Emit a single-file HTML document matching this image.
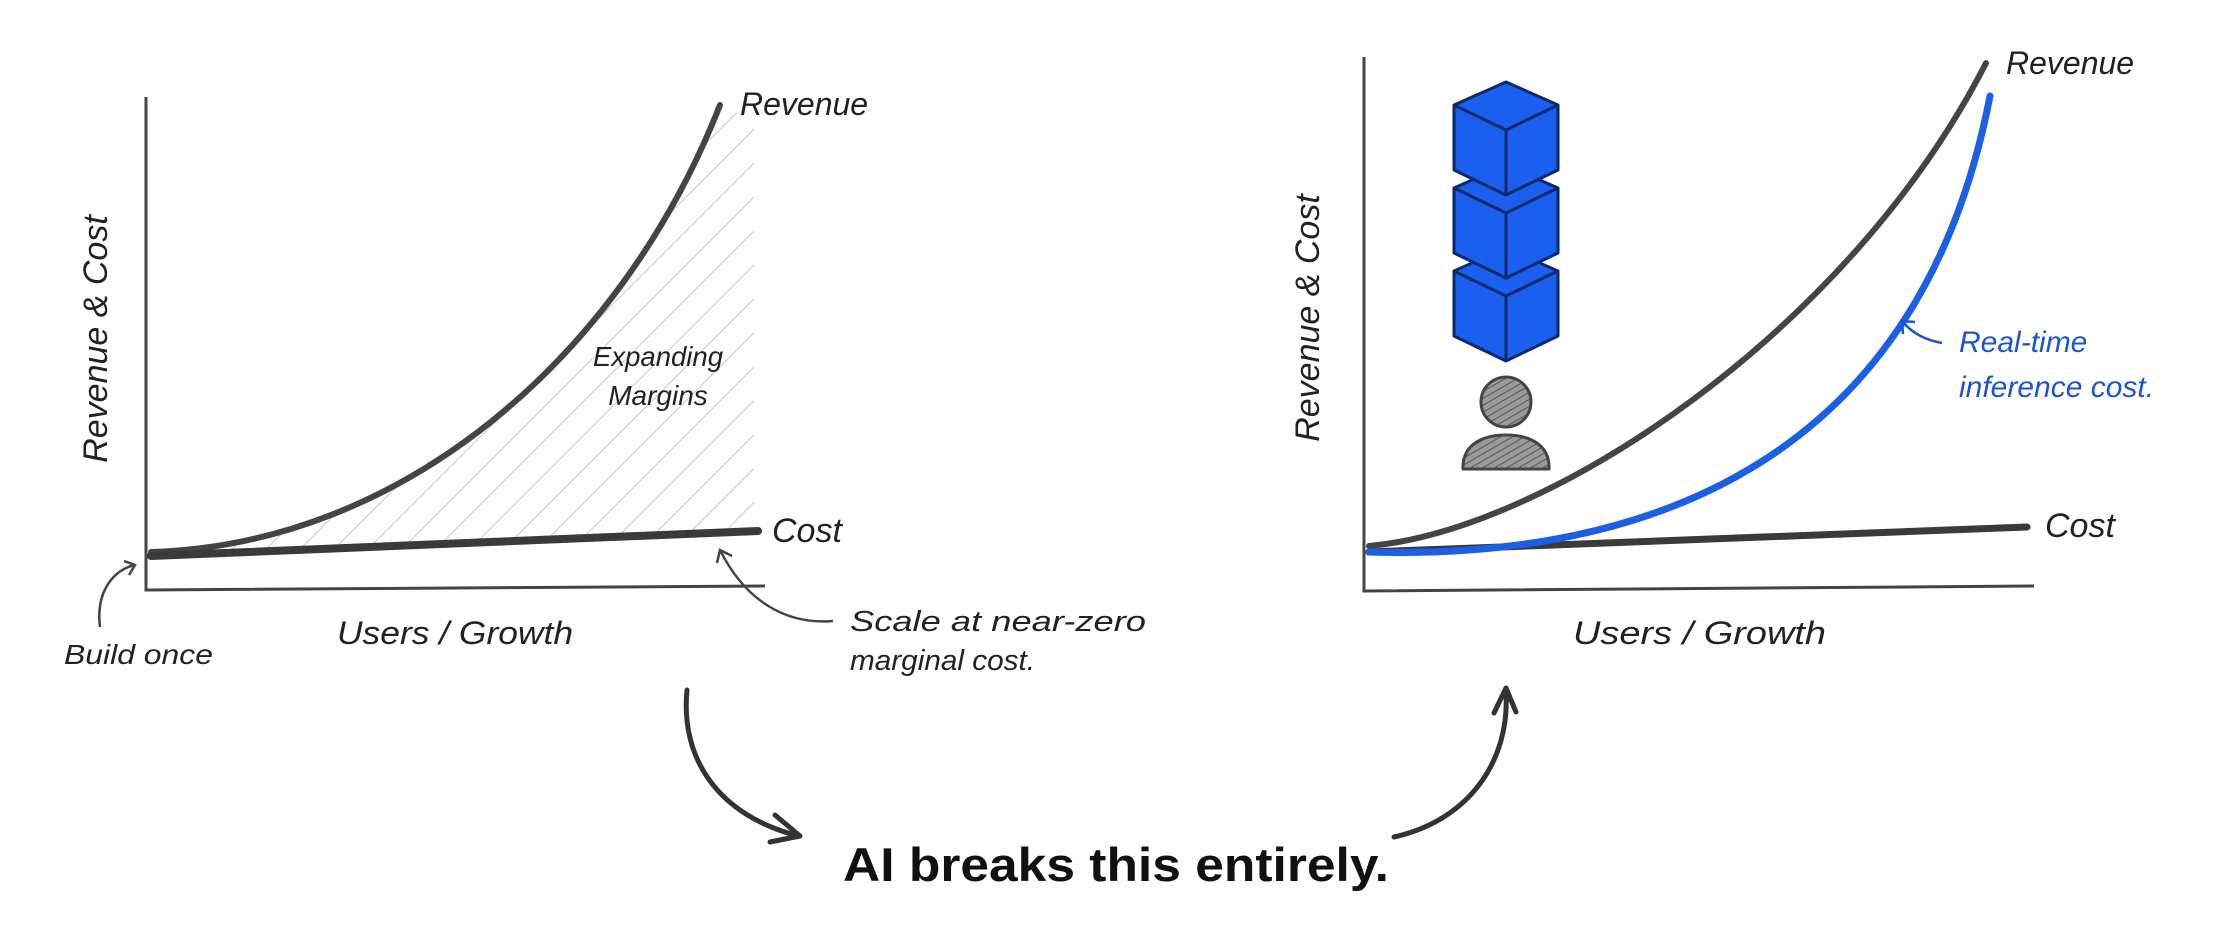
<!DOCTYPE html>
<html><head><meta charset="utf-8"><style>
html,body{margin:0;padding:0;background:#fff;}
svg{display:block;}
.h{font-family:"Liberation Sans",sans-serif;font-style:italic;fill:#222;}
</style></head><body>
<svg width="2232" height="941" viewBox="0 0 2232 941" xmlns="http://www.w3.org/2000/svg">
<defs>
<pattern id="hatch" patternUnits="userSpaceOnUse" width="24" height="24" patternTransform="rotate(45)">
<line x1="0" y1="0" x2="0" y2="24" stroke="#c8c8c8" stroke-width="2"/>
</pattern>
<pattern id="ph" patternUnits="userSpaceOnUse" width="6" height="6" patternTransform="rotate(60)">
<rect width="6" height="6" fill="#9a9a9a"/>
<line x1="0" y1="0" x2="0" y2="6" stroke="#555" stroke-width="2"/>
</pattern>
</defs>

<!-- LEFT CHART -->
<path d="M151,552 C400,545 620,360 720,105 L754,120 L754,531 L151,556 Z" fill="url(#hatch)"/>
<path d="M146,97 L146,590 L765,586" fill="none" stroke="#444" stroke-width="3"/>
<path d="M151,552 C400,545 620,360 720,105" fill="none" stroke="#444" stroke-width="6" stroke-linecap="round"/>
<path d="M151,556 L758,531" fill="none" stroke="#3a3a3a" stroke-width="8" stroke-linecap="round"/>
<text class="h" x="740" y="115" font-size="32">Revenue</text>
<text class="h" x="772" y="542" font-size="34">Cost</text>
<text class="h" x="593" y="366" font-size="28" textLength="130" lengthAdjust="spacingAndGlyphs">Expanding</text>
<text class="h" x="658" y="405" font-size="28" text-anchor="middle">Margins</text>
<text class="h" transform="translate(107,339) rotate(-90)" font-size="34" text-anchor="middle">Revenue &amp; Cost</text>
<text class="h" x="337" y="644" font-size="32" textLength="236" lengthAdjust="spacingAndGlyphs">Users / Growth</text>
<text class="h" x="64" y="664" font-size="28" textLength="149" lengthAdjust="spacingAndGlyphs">Build once</text>
<path d="M100,627 C96,595 110,572 134,565" fill="none" stroke="#444" stroke-width="2.5"/>
<path d="M124,561 L135,565 L129,575" fill="none" stroke="#444" stroke-width="2.5"/>
<text class="h" x="850" y="631" font-size="29" textLength="296" lengthAdjust="spacingAndGlyphs">Scale at near-zero</text>
<text class="h" x="850" y="670" font-size="29" textLength="185" lengthAdjust="spacingAndGlyphs">marginal cost.</text>
<path d="M833,621 C785,625 745,600 720,550" fill="none" stroke="#444" stroke-width="2.5"/>
<path d="M717,563 L720,550 L732,556" fill="none" stroke="#444" stroke-width="2.5"/>

<!-- big arrows -->
<path d="M687,690 C680,760 720,815 795,835" fill="none" stroke="#333" stroke-width="5" stroke-linecap="round"/>
<path d="M775,815 L800,836 L770,842" fill="none" stroke="#333" stroke-width="5" stroke-linecap="round" stroke-linejoin="round"/>
<path d="M1394,837 C1470,820 1510,760 1506,692" fill="none" stroke="#333" stroke-width="5" stroke-linecap="round"/>
<path d="M1494,713 L1506,688 L1516,712" fill="none" stroke="#333" stroke-width="5" stroke-linecap="round" stroke-linejoin="round"/>
<text x="843" y="881" font-family="Liberation Sans, sans-serif" font-weight="bold" font-size="47" fill="#111" textLength="546" lengthAdjust="spacingAndGlyphs">AI breaks this entirely.</text>

<!-- RIGHT CHART -->
<path d="M1364,57 L1364,591 L2034,586" fill="none" stroke="#444" stroke-width="3"/>
<path d="M1369,552 L2027,527" fill="none" stroke="#3a3a3a" stroke-width="7" stroke-linecap="round"/>
<path d="M1369,546 C1550,530 1850,330 1986,63" fill="none" stroke="#444" stroke-width="6" stroke-linecap="round"/>
<path d="M1369,552 C1650,560 1920,460 1990,96" fill="none" stroke="#1a5fe6" stroke-width="7" stroke-linecap="round"/>
<text class="h" x="2006" y="74" font-size="32">Revenue</text>
<text class="h" x="2045" y="537" font-size="34">Cost</text>
<text class="h" x="1959" y="352" font-size="30" style="fill:#1a55d0">Real-time</text>
<text class="h" x="1959" y="397" font-size="30" style="fill:#1a55d0">inference cost.</text>
<path d="M1942,343 C1925,340 1912,333 1903,322" fill="none" stroke="#1a55d0" stroke-width="2.5"/>
<path d="M1903,334 L1902,321 L1915,322" fill="none" stroke="#1a55d0" stroke-width="2.5"/>
<text class="h" transform="translate(1319,318) rotate(-90)" font-size="34" text-anchor="middle">Revenue &amp; Cost</text>
<text class="h" x="1573" y="644" font-size="32" textLength="253" lengthAdjust="spacingAndGlyphs">Users / Growth</text>

<!-- cubes -->
<g stroke="#0b2a6b" stroke-width="3" stroke-linejoin="round" fill="#1a5ff0">
<g transform="translate(0,166)"><path d="M1506,82 L1558,105 L1558,170 L1506,195 L1454,170 L1454,105 Z"/><path d="M1454,105 L1506,130 L1558,105 M1506,130 L1506,195" fill="none"/></g>
<g transform="translate(0,83)"><path d="M1506,82 L1558,105 L1558,170 L1506,195 L1454,170 L1454,105 Z"/><path d="M1454,105 L1506,130 L1558,105 M1506,130 L1506,195" fill="none"/></g>
<g><path d="M1506,82 L1558,105 L1558,170 L1506,195 L1454,170 L1454,105 Z"/><path d="M1454,105 L1506,130 L1558,105 M1506,130 L1506,195" fill="none"/></g>
</g>
<!-- person -->
<circle cx="1506" cy="402" r="25" fill="url(#ph)" stroke="#444" stroke-width="3"/>
<path d="M1463,469 C1462,445 1482,435 1506,435 C1530,435 1550,445 1549,469 Z" fill="url(#ph)" stroke="#444" stroke-width="3" stroke-linejoin="round"/>
</svg>
</body></html>
